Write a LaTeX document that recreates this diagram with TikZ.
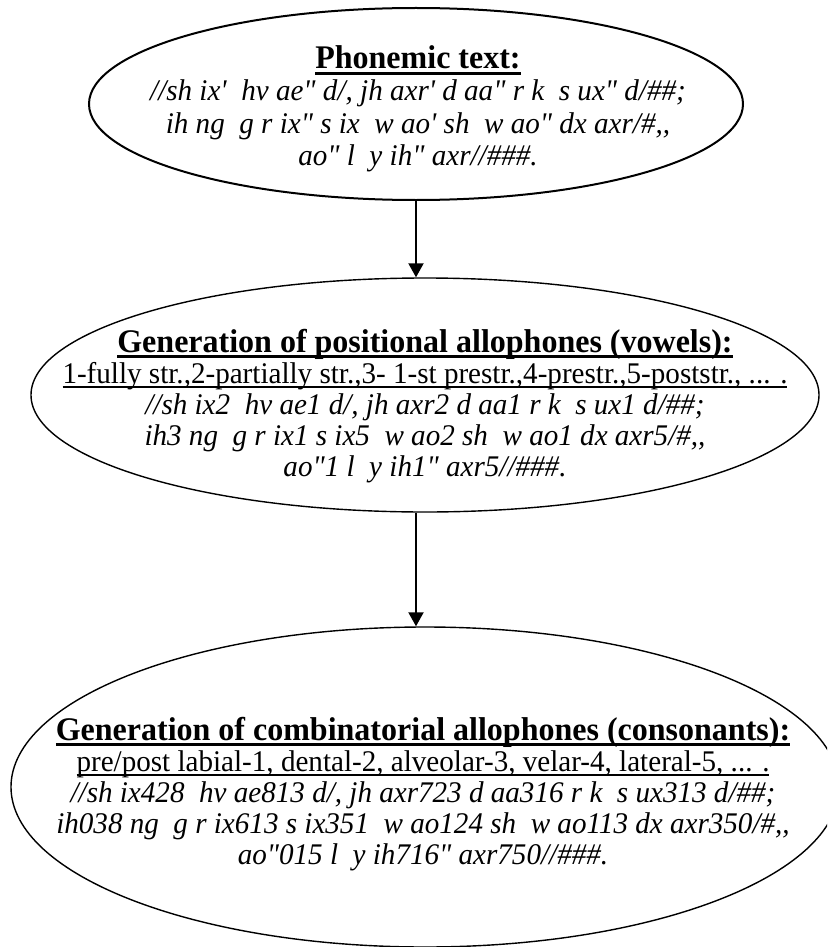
\documentclass[tikz,border=0pt]{standalone}
\usepackage{fontspec}
\setmainfont{Liberation Serif}[Ligatures=TeXOff, FakeStretch=0.97]
\usetikzlibrary{shapes.geometric,arrows.meta}

% underline drawn at a fixed depth below the baseline
\newsavebox\ulinebox
\newcommand{\ulined}[3]{\sbox\ulinebox{#3}\rlap{\rule[-#1]{\wd\ulinebox}{#2}}\usebox\ulinebox}

\tikzset{
  stage/.style={draw, ellipse, line width=1.4pt, inner sep=0pt},
  head/.style={anchor=base, inner sep=0pt, font=\fontsize{33}{35}\selectfont\bfseries},
  key/.style={anchor=base, inner sep=0pt, font=\fontsize{30}{31}\selectfont},
  trans/.style={anchor=base, inner sep=0pt, font=\fontsize{30}{31}\selectfont\itshape},
  flow/.style={line width=2pt, -{Triangle[length=14pt,width=15pt]}}
}

\begin{document}
\begin{tikzpicture}[x=1pt,y=-1pt]
\useasboundingbox (0,0) rectangle (827,947);
\clip (0,0) rectangle (827,947);

% the three processing stages
\node[stage, line width=2pt, minimum width=654pt, minimum height=192pt] (e1) at (416,104) {};
\node[stage, minimum width=788pt, minimum height=234pt] (e2) at (425,395) {};
\node[stage, minimum width=828pt, minimum height=320pt] (e3) at (425,787) {};

% stage 1: phonemic text
\node[head]  (p0) at (418,69)  {\ulined{6pt}{2.8pt}{Phonemic text:}};
\node[trans] (p1) at (418,101) {//sh ix'~ hv ae" d/, jh axr' d aa" r k~ s ux" d/\#\#;};
\node[trans] (p2) at (418,133) {ih ng~ g r ix" s ix~ w ao' sh~ w ao" dx axr/\#,,};
\node[trans] (p3) at (418,165) {ao" l~ y ih" axr//\#\#\#.};

% stage 2: positional allophones
\node[head]  (q0) at (425,352) {\ulined{6pt}{2.8pt}{Generation of positional allophones (vowels):}};
\node[key]   (q1) at (425,383) {\ulined{4.5pt}{1.8pt}{1-fully str.,2-partially str.,3- 1-st prestr.,4-prestr.,5-poststr., ... .}};
\node[trans] (q2) at (425,414) {//sh ix2~ hv ae1 d/, jh axr2 d aa1 r k~ s ux1 d/\#\#;};
\node[trans] (q3) at (425,445) {ih3 ng~ g r ix1 s ix5~ w ao2 sh~ w ao1 dx axr5/\#,,};
\node[trans] (q4) at (425,476) {ao"1 l~ y ih1" axr5//\#\#\#.};

% stage 3: combinatorial allophones
\node[head]  (r0) at (423,740) {\ulined{6pt}{2.8pt}{Generation of combinatorial allophones (consonants):}};
\node[key]   (r1) at (423,771) {\ulined{4.5pt}{1.8pt}{pre/post labial-1, dental-2, alveolar-3, velar-4, lateral-5, ... .}};
\node[trans] (r2) at (423,802) {//sh ix428~ hv ae813 d/, jh axr723 d aa316 r k~ s ux313 d/\#\#;};
\node[trans] (r3) at (423,833) {ih038 ng~ g r ix613 s ix351~ w ao124 sh~ w ao113 dx axr350/\#,,};
\node[trans] (r4) at (423,864) {ao"015 l~ y ih716" axr750//\#\#\#.};

% flow between stages
\draw[flow] (e1.south) -- (e1.south |- e2.north);
\draw[flow] (e1.south |- e2.south) -- (e1.south |- e3.north);
\end{tikzpicture}
\end{document}
